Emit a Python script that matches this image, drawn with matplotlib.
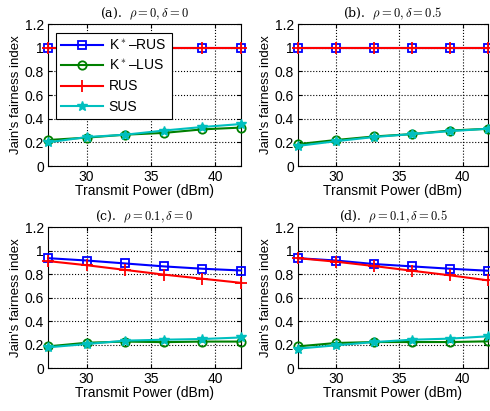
import matplotlib
matplotlib.use('Agg')
import matplotlib.pyplot as plt

plt.rcParams['font.family'] = ['Liberation Sans', 'DejaVu Sans']
plt.rcParams['mathtext.fontset'] = 'cm'

# transmit power (dBm)
power = [27, 30, 33, 36, 39, 42]

titles = [r'(a).  $\rho = 0, \delta = 0$',
          r'(b).  $\rho = 0, \delta = 0.5$',
          r'(c).  $\rho = 0.1, \delta = 0$',
          r'(d).  $\rho = 0.1, \delta = 0.5$']

# Jain's fairness index per panel
krus_a = [1.0, 1.0, 1.0, 1.0, 1.0, 1.0]
klus_a = [0.22, 0.24, 0.265, 0.28, 0.31, 0.325]
rus_a = [1.0, 1.0, 1.0, 1.0, 1.0, 1.0]
sus_a = [0.20, 0.245, 0.265, 0.30, 0.33, 0.355]

krus_b = [1.0, 1.0, 1.0, 1.0, 1.0, 1.0]
klus_b = [0.185, 0.22, 0.25, 0.27, 0.30, 0.315]
rus_b = [1.0, 1.0, 1.0, 1.0, 1.0, 1.0]
sus_b = [0.17, 0.21, 0.245, 0.27, 0.295, 0.315]

krus_c = [0.935, 0.915, 0.89, 0.865, 0.845, 0.83]
klus_c = [0.184, 0.215, 0.225, 0.22, 0.225, 0.225]
rus_c = [0.91, 0.875, 0.835, 0.795, 0.76, 0.725]
sus_c = [0.176, 0.204, 0.233, 0.241, 0.247, 0.26]

krus_d = [0.935, 0.915, 0.885, 0.865, 0.845, 0.828]
klus_d = [0.184, 0.213, 0.221, 0.221, 0.221, 0.227]
rus_d = [0.935, 0.905, 0.868, 0.828, 0.789, 0.746]
sus_d = [0.165, 0.193, 0.221, 0.241, 0.25, 0.27]

panels = [(krus_a, klus_a, rus_a, sus_a),
          (krus_b, klus_b, rus_b, sus_b),
          (krus_c, klus_c, rus_c, sus_c),
          (krus_d, klus_d, rus_d, sus_d)]

fig = plt.figure(figsize=(4.9, 4.11), dpi=100)
pos = [[0.098, 0.596, 0.394, 0.3455],
       [0.608, 0.596, 0.388, 0.3455],
       [0.098, 0.1046, 0.394, 0.343],
       [0.608, 0.1046, 0.388, 0.343]]

for i, (krus, klus, rus, sus) in enumerate(panels):
    ax = fig.add_axes(pos[i])
    ax.plot(power, krus, '-s', color='blue', mfc='none', mec='blue',
            ms=6, mew=1.3, lw=1.5, label=r'K$^*$–RUS', clip_on=False)
    ax.plot(power, klus, '-o', color='green', mfc='none', mec='green',
            ms=6, mew=1.3, lw=1.5, label=r'K$^*$–LUS', clip_on=False)
    ax.plot(power, rus, '-+', color='red', ms=8, mew=1.3, lw=1.5,
            label='RUS', clip_on=False)
    ax.plot(power, sus, '-*', color='#00bfbf', ms=7, mew=1.0, lw=1.5,
            label='SUS', clip_on=False)
    ax.set_xlim(27, 42)
    ax.set_ylim(0, 1.2)
    ax.set_xticks([30, 35, 40])
    ax.set_yticks([0, 0.2, 0.4, 0.6, 0.8, 1.0, 1.2])
    ax.set_yticklabels(['0', '0.2', '0.4', '0.6', '0.8', '1', '1.2'])
    ax.grid(True, linestyle=':', color='black', lw=0.8)
    ax.tick_params(direction='in', labelsize=10, length=3, pad=3,
                   top=True, right=True)
    ax.set_xlabel('Transmit Power (dBm)', fontsize=10, labelpad=0)
    ax.set_ylabel("Jain's fairness index", fontsize=9.5, labelpad=2)
    ax.set_title(titles[i], fontsize=9, family='serif', pad=5)
    for sp in ax.spines.values():
        sp.set_linewidth(0.8)
        sp.set_zorder(1)
    if i == 0:
        leg = ax.legend(loc='upper left', bbox_to_anchor=(0.041, 0.937),
                        borderaxespad=0, numpoints=1, fontsize=10,
                        handlelength=3.0, handletextpad=0.4,
                        fancybox=False, framealpha=1,
                        edgecolor='black', labelspacing=0.45)
        leg.get_frame().set_linewidth(0.8)
        leg.set_zorder(5)

fig.savefig('out.png', dpi=100)
